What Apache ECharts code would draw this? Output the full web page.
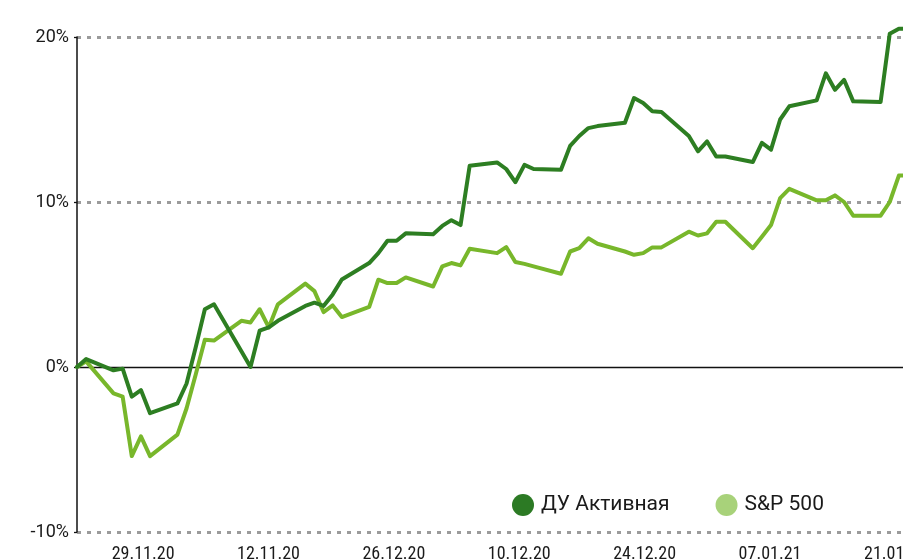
<!DOCTYPE html>
<html>
<head>
<meta charset="utf-8">
<style>
  html, body { margin: 0; padding: 0; background: #ffffff; }
  #chart { width: 903px; height: 560px; }
</style>
<script src="https://cdn.jsdelivr.net/npm/echarts@6/dist/echarts.min.js"></script>
</head>
<body>
<div id="chart"></div>
<script>
// Calendar-day index of each trading day (0 = first day shown)
const days = [0, 1, 4, 5, 6, 7, 8, 11, 12, 13, 14, 15, 18, 19, 20, 21, 22, 25, 26, 27, 28, 29,
  32, 33, 34, 35, 36, 39, 40, 41, 42, 43, 46, 47, 48, 49, 50, 53, 54, 55, 56, 57,
  60, 61, 62, 63, 64, 67, 68, 69, 70, 71, 74, 75, 76, 77, 78, 81, 82, 83, 84, 85,
  88, 89, 90, 91];

// Cumulative return, %
const activeDU = [0, 0.48, -0.2, -0.1, -1.8, -1.4, -2.8, -2.2, -1.0, 1.2, 3.5, 3.8, 0.95, 0, 2.2, 2.4, 2.8, 3.7, 3.9, 3.7, 4.4, 5.3,
  6.3, 6.9, 7.65, 7.65, 8.1, 8.05, 8.55, 8.9, 8.6, 12.2, 12.4, 12.0, 11.2, 12.25, 12.0, 11.95, 13.4, 14.0, 14.48, 14.6,
  14.8, 16.3, 16.0, 15.5, 15.45, 14.0, 13.07, 13.67, 12.76, 12.76, 12.42, 13.58, 13.17, 15.0, 15.8, 16.16, 17.8, 16.8, 17.4, 16.1,
  16.06, 20.2, 20.5, 20.5];

const sp500 = [0, 0.34, -1.6, -1.8, -5.4, -4.2, -5.4, -4.1, -2.5, -0.45, 1.65, 1.6, 2.8, 2.7, 3.5, 2.4, 3.8, 5.05, 4.6, 3.33, 3.73, 3.03,
  3.64, 5.29, 5.09, 5.09, 5.43, 4.88, 6.1, 6.3, 6.16, 7.17, 6.9, 7.27, 6.36, 6.25, 6.1, 5.65, 7.0, 7.2, 7.8, 7.47,
  7.0, 6.8, 6.9, 7.25, 7.25, 8.2, 7.97, 8.1, 8.8, 8.8, 7.2, 7.9, 8.6, 10.24, 10.8, 10.1, 10.1, 10.4, 10.0, 9.17,
  9.17, 10.0, 11.6, 11.6];

// X tick labels and their positions (calendar-day index)
const tickDays = [7.24, 20.97, 34.7, 48.43, 62.16, 75.89, 89.62];
const tickLabels = ['29.11.20', '12.11.20', '26.12.20', '10.12.20', '24.12.20', '07.01.21', '21.01.21'];

const seriesNames = ['ДУ Активная', 'S&P 500'];

const chart = echarts.init(document.getElementById('chart'), null, { renderer: 'canvas' });

const toPairs = vals => days.map((d, i) => [d, vals[i]]);

const xCommon = { type: 'value', min: 0, max: 91 };

chart.setOption({
  animation: false,
  backgroundColor: '#ffffff',
  grid: { left: 77, top: 37, width: 831, height: 495, containLabel: false, outerBoundsMode: 'none' },
  legend: {
    left: 507, top: 489,
    icon: 'circle', itemWidth: 22, itemHeight: 22, itemGap: 46,
    textStyle: { fontFamily: 'Roboto, sans-serif', fontSize: 21, color: '#1a1a1a', padding: [0, 0, 0, 2] },
    data: seriesNames
  },
  xAxis: [
    Object.assign({}, xCommon, {
      axisLine: { show: true, onZero: true, lineStyle: { color: '#111111', width: 1.3 } },
      axisTick: { show: false },
      axisLabel: { show: false },
      splitLine: { show: false }
    }),
    Object.assign({}, xCommon, {
      position: 'bottom',
      axisLine: { show: false, onZero: false },
      axisTick: { show: false },
      splitLine: { show: false },
      axisLabel: {
        show: true,
        customValues: tickDays,
        margin: 13,
        fontFamily: "'Liberation Sans Narrow', 'Roboto Condensed', Roboto, sans-serif",
        fontSize: 18,
        color: '#1a1a1a',
        hideOverlap: false,
        showMinLabel: true, showMaxLabel: true,
        formatter: function (v) {
          let best = 0;
          for (let i = 1; i < tickDays.length; i++) {
            if (Math.abs(tickDays[i] - v) < Math.abs(tickDays[best] - v)) best = i;
          }
          return tickLabels[best];
        }
      }
    })
  ],
  yAxis: {
    type: 'value', min: -10, max: 20, interval: 10,
    axisLine: { show: true, lineStyle: { color: '#111111', width: 1.5 } },
    axisTick: { show: true, length: 3, lineStyle: { color: '#111111', width: 1.3 } },
    axisLabel: {
      formatter: '{value}%', margin: 8,
      fontFamily: 'Roboto, sans-serif', fontSize: 18, color: '#1a1a1a'
    },
    splitLine: {
      show: true,
      lineStyle: { color: ['#9b9b9b', 'rgba(0,0,0,0)', '#9b9b9b', '#9b9b9b'], width: 3, type: [4, 6] }
    }
  },
  series: [
    {
      name: seriesNames[0], type: 'line', xAxisIndex: 0, clip: false,
      data: toPairs(activeDU), showSymbol: false, symbol: 'circle',
      itemStyle: { color: '#2c7a24' },
      lineStyle: { color: '#2d7e22', width: 4, join: 'round', cap: 'round' },
      z: 4
    },
    {
      name: seriesNames[1], type: 'line', xAxisIndex: 0, clip: false,
      data: toPairs(sp500), showSymbol: false, symbol: 'circle',
      itemStyle: { color: '#a8d27a' },
      lineStyle: { color: '#78b72b', width: 4, join: 'round', cap: 'round' },
      z: 3
    }
  ]
});
</script>
</body>
</html>
